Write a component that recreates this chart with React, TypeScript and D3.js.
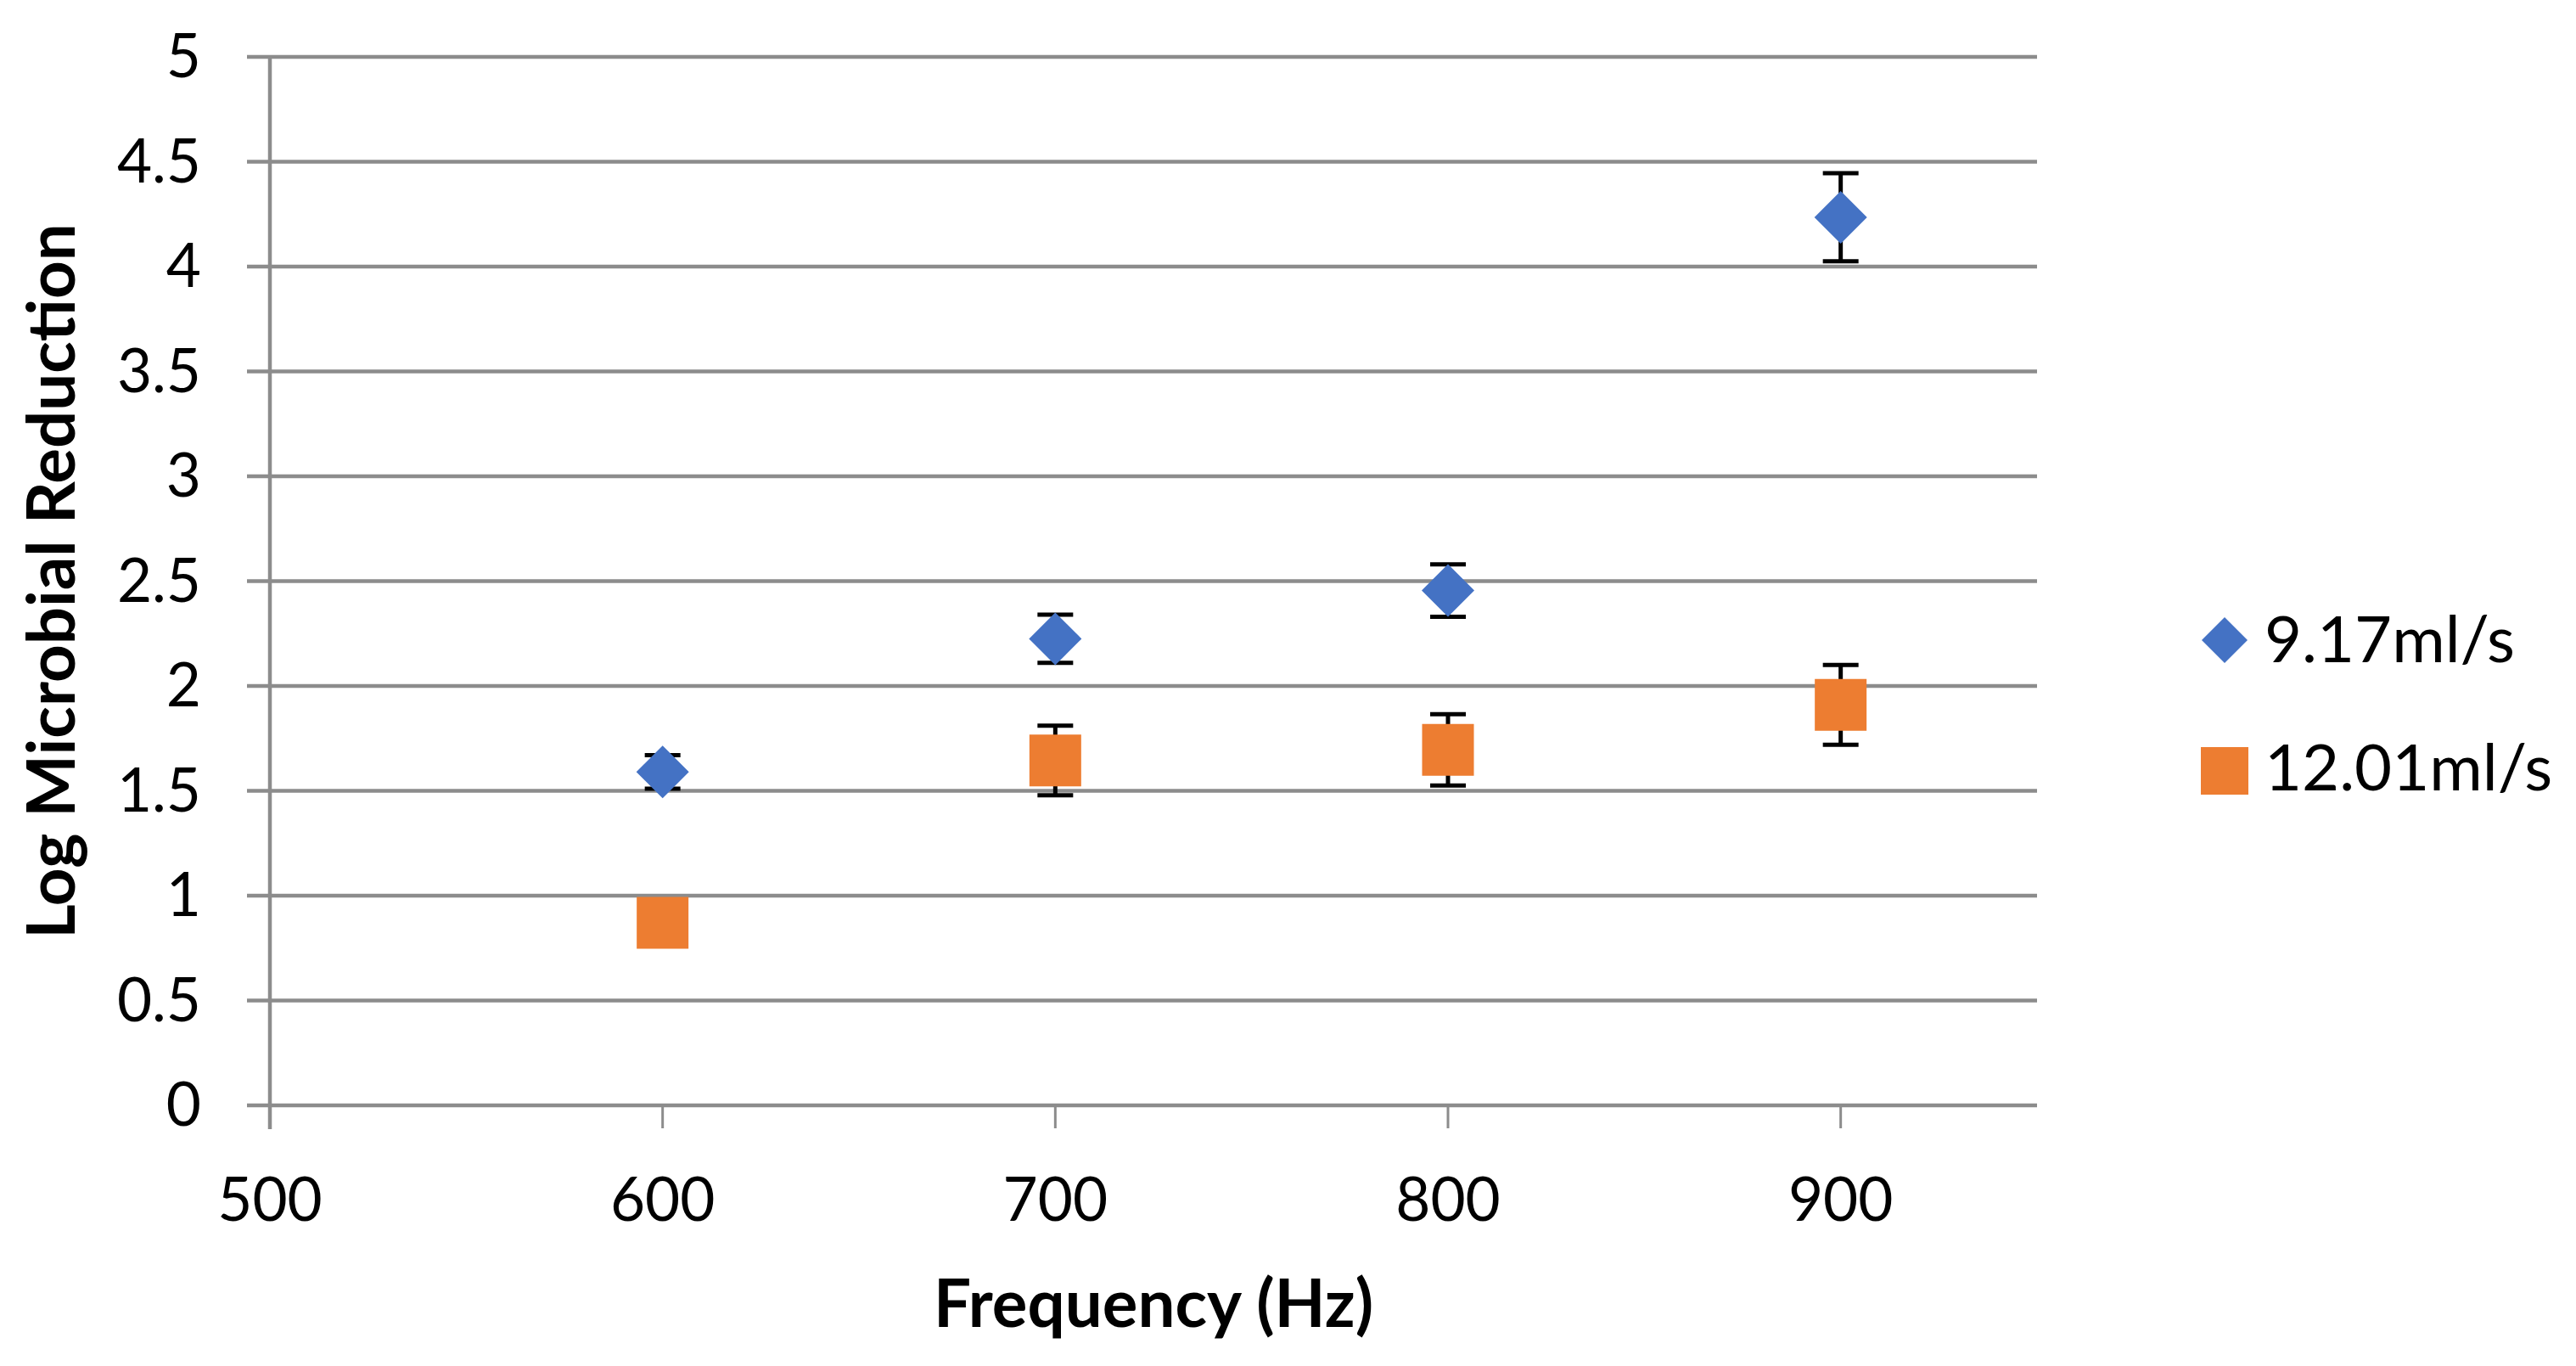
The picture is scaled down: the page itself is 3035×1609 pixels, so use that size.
import { useEffect, useRef } from 'react'
import * as d3 from 'd3'

const frequencies = [600, 700, 800, 900]
const seriesNames = ['9.17ml/s', '12.01ml/s']
const slowValues = [1.59, 2.225, 2.455, 4.235]
const slowErrors = [0.08, 0.115, 0.125, 0.21]
const fastValues = [0.87, 1.645, 1.695, 1.91]
const fastErrors = [0.08, 0.166, 0.17, 0.19]
const xTicks = [500, 600, 700, 800, 900]
const yTicks = [0, 0.5, 1, 1.5, 2, 2.5, 3, 3.5, 4, 4.5, 5]

const WIDTH = 3035
const HEIGHT = 1609
const FONT = 'Lato, "Open Sans", sans-serif'
const BLUE = '#4472C4'
const ORANGE = '#ED7D31'
const GRID = '#8c8c8c'

export default function App() {
  const svgRef = useRef<SVGSVGElement>(null)

  useEffect(() => {
    if (!svgRef.current) return
    const svg = d3.select(svgRef.current)
    svg.selectAll('*').remove()

    const x = d3.scaleLinear().domain([500, 950]).range([318, 2400])
    const y = d3.scaleLinear().domain([0, 5]).range([1302, 67])

    svg.append('rect').attr('width', WIDTH).attr('height', HEIGHT).attr('fill', 'white')

    // gridlines (they also serve as the y tick marks)
    svg.append('g')
      .selectAll('line')
      .data(yTicks)
      .join('line')
      .attr('x1', x(500) - 27)
      .attr('x2', x(950))
      .attr('y1', d => y(d))
      .attr('y2', d => y(d))
      .attr('stroke', GRID)
      .attr('stroke-width', 4.5)

    // vertical axis line
    svg.append('line')
      .attr('x1', x(500)).attr('x2', x(500))
      .attr('y1', y(5)).attr('y2', y(0) + 28)
      .attr('stroke', GRID)
      .attr('stroke-width', 4.5)

    // x tick marks
    svg.append('g')
      .selectAll('line')
      .data(xTicks.slice(1))
      .join('line')
      .attr('x1', d => x(d)).attr('x2', d => x(d))
      .attr('y1', y(0)).attr('y2', y(0) + 27)
      .attr('stroke', GRID)
      .attr('stroke-width', 3)

    // y tick labels
    svg.append('g')
      .selectAll('text')
      .data(yTicks)
      .join('text')
      .attr('x', 237)
      .attr('y', d => y(d) + 24)
      .attr('text-anchor', 'end')
      .style('font-family', FONT)
      .style('font-size', '71px')
      .style('fill', '#000')
      .text(d => String(d))

    // x tick labels
    svg.append('g')
      .selectAll('text')
      .data(xTicks)
      .join('text')
      .attr('x', d => x(d))
      .attr('y', 1438)
      .attr('text-anchor', 'middle')
      .style('font-family', FONT)
      .style('font-size', '71px')
      .style('fill', '#000')
      .text(d => String(d))

    // axis titles
    svg.append('text')
      .attr('x', (x(500) + x(950)) / 2)
      .attr('y', 1563)
      .attr('text-anchor', 'middle')
      .style('font-family', FONT)
      .style('font-size', '78px')
      .style('font-weight', '700')
      .text('Frequency (Hz)')

    svg.append('text')
      .attr('transform', `translate(88,${(y(0) + y(5)) / 2}) rotate(-90)`)
      .attr('text-anchor', 'middle')
      .style('font-family', FONT)
      .style('font-size', '78px')
      .style('font-weight', '700')
      .text('Log Microbial Reduction')

    const series = [
      { values: slowValues, errors: slowErrors, color: BLUE, shape: d3.symbolDiamond2, size: 62 },
      { values: fastValues, errors: fastErrors, color: ORANGE, shape: d3.symbolSquare, size: 61 },
    ]

    series.forEach(s => {
      const g = svg.append('g')
      const pts = frequencies.map((f, i) => ({ f, v: s.values[i], e: s.errors[i] }))

      // error bars under the markers
      const bars = g.selectAll('g.err').data(pts).join('g').attr('class', 'err')
        .attr('stroke', '#000').attr('stroke-width', 5)
      bars.append('line')
        .attr('x1', d => x(d.f)).attr('x2', d => x(d.f))
        .attr('y1', d => y(d.v + d.e)).attr('y2', d => y(d.v - d.e))
      bars.append('line')
        .attr('x1', d => x(d.f) - 21).attr('x2', d => x(d.f) + 21)
        .attr('y1', d => y(d.v + d.e)).attr('y2', d => y(d.v + d.e))
      bars.append('line')
        .attr('x1', d => x(d.f) - 21).attr('x2', d => x(d.f) + 21)
        .attr('y1', d => y(d.v - d.e)).attr('y2', d => y(d.v - d.e))

      g.selectAll('path').data(pts).join('path')
        .attr('transform', d => `translate(${x(d.f)},${y(d.v)})`)
        .attr('d', symbolPath(s.shape, s.size))
        .attr('fill', s.color)
    })

    // legend
    const legend = [
      { name: seriesNames[0], color: BLUE, shape: d3.symbolDiamond2, size: 54, cy: 754, base: 780 },
      { name: seriesNames[1], color: ORANGE, shape: d3.symbolSquare, size: 56, cy: 908, base: 931 },
    ]
    const lg = svg.append('g')
    legend.forEach(l => {
      lg.append('path')
        .attr('transform', `translate(2621,${l.cy})`)
        .attr('d', symbolPath(l.shape, l.size))
        .attr('fill', l.color)
      lg.append('text')
        .attr('x', 2668)
        .attr('y', l.base)
        .style('font-family', FONT)
        .style('font-size', '76px')
        .text(l.name)
    })
  }, [])

  return (
    <>
      <style>{`body{margin:0}`}</style>
      <svg ref={svgRef} width={WIDTH} height={HEIGHT} style={{ display: 'block' }}></svg>
    </>
  )
}

// marker path whose bounding box is `extent` px across
function symbolPath(shape: d3.SymbolType, extent: number) {
  if (shape === d3.symbolSquare) {
    return d3.symbol().type(shape).size(extent * extent)()
  }
  const h = extent / 2
  return `M0,${-h}L${h},0L0,${h}L${-h},0Z`
}
